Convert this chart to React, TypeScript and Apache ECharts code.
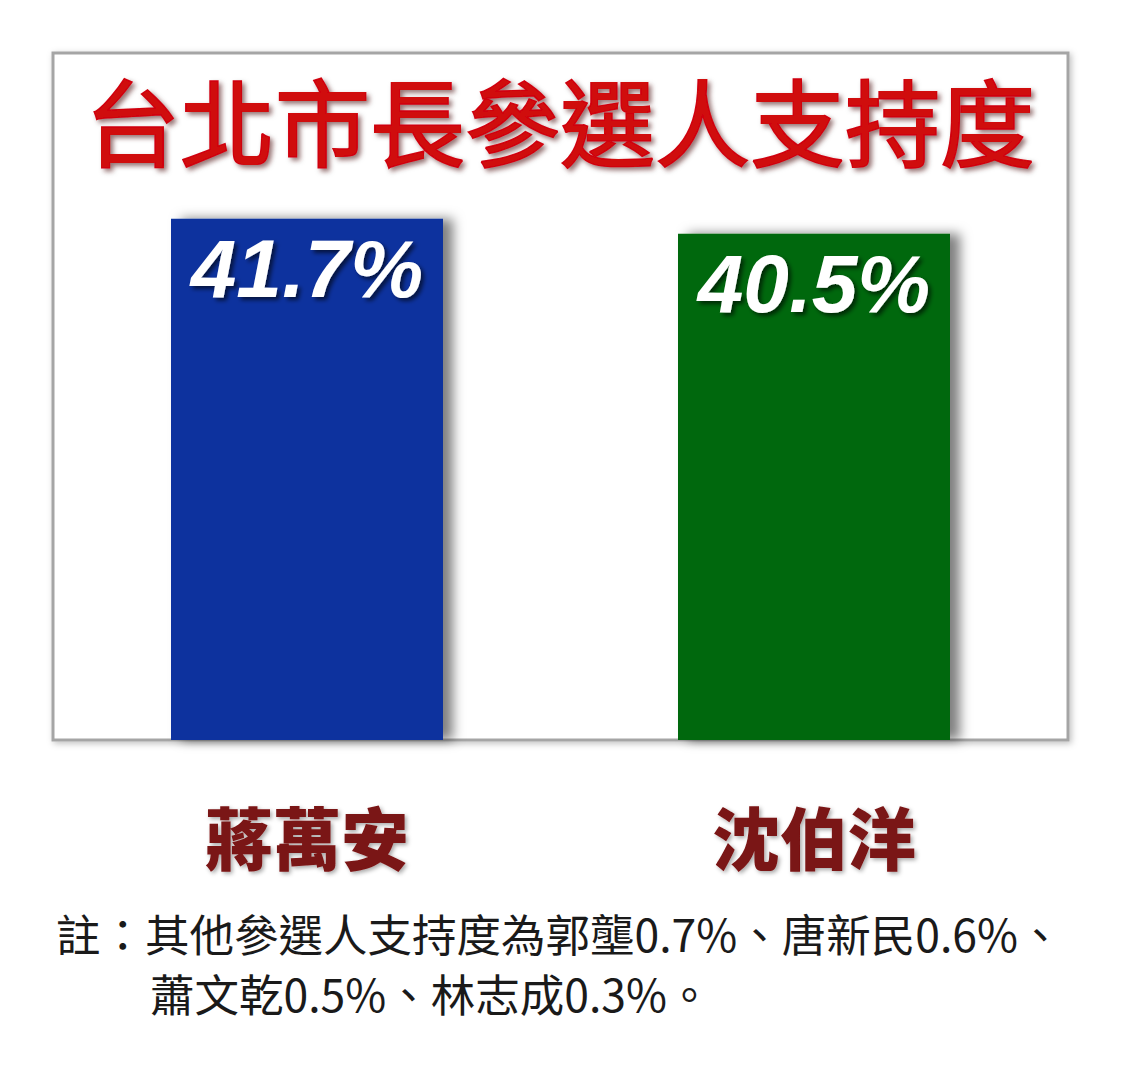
import React, { useEffect, useRef } from "react";
import * as echarts from "echarts";

const titleText = "台北市長參選人支持度";
const candidates = ["蔣萬安", "沈伯洋"];
const support = [41.7, 40.5];
const barColors = ["#0a339e", "#03670c"];
const noteLine1 = "註：其他參選人支持度為郭壟0.7%、唐新民0.6%、";
const noteLine2 = "蕭文乾0.5%、林志成0.3%。";

export default function App() {
  const ref = useRef<HTMLDivElement>(null);
  useEffect(() => {
    document.body.style.margin = "0";
    const chart = echarts.init(ref.current!, undefined, { renderer: "svg" });
    chart.setOption({
      animation: false,
      backgroundColor: "#ffffff",
      title: {
        text: titleText,
        left: 80,
        top: 66,
        textStyle: {
          fontFamily: "Noto Sans CJK TC",
          fontWeight: "normal",
          fontSize: 95,
          color: "#d0070f",
          textBorderColor: "#d0070f",
          textBorderWidth: 2,
          textShadowColor: "rgba(60,0,0,0.55)",
          textShadowBlur: 5,
          textShadowOffsetX: 3,
          textShadowOffsetY: 3,
        },
      },
      grid: { left: 53.5, width: 1014, top: 177.5, height: 562.5 },
      xAxis: {
        type: "category",
        data: candidates,
        axisLine: { show: false },
        axisTick: { show: false },
        axisLabel: {
          margin: 61,
          fontFamily: "Noto Sans CJK TC",
          fontWeight: 900,
          fontSize: 68,
          color: "#7a1212",
          textShadowColor: "rgba(0,0,0,0.35)",
          textShadowBlur: 4,
          textShadowOffsetX: 2,
          textShadowOffsetY: 2,
        },
      },
      yAxis: { type: "value", min: 0, max: 45, show: false, splitLine: { show: false } },
      graphic: [
        {
          type: "rect",
          z: 0,
          silent: true,
          shape: { x: 53, y: 53, width: 1015, height: 687 },
          style: {
            fill: "#ffffff",
            stroke: "#a5a5a5",
            lineWidth: 3,
            shadowColor: "rgba(0,0,0,0.25)",
            shadowBlur: 6,
            shadowOffsetX: 2,
            shadowOffsetY: 2,
          },
        },
        {
          type: "text",
          left: 56,
          top: 910,
          style: {
            text: noteLine1,
            fontFamily: "Noto Sans CJK TC",
            fontSize: 44.5,
            fill: "#1a1a1a",
          },
        },
        {
          type: "text",
          left: 150,
          top: 970,
          style: {
            text: noteLine2,
            fontFamily: "Noto Sans CJK TC",
            fontSize: 44.5,
            fill: "#1a1a1a",
          },
        },
      ],
      series: [
        {
          type: "bar",
          z: 3,
          barWidth: 272,
          data: support.map((v, i) => ({
            value: v,
            itemStyle: { color: barColors[i] },
          })),
          itemStyle: {
            shadowColor: "rgba(0,0,0,0.5)",
            shadowBlur: 12,
            shadowOffsetX: 10,
            shadowOffsetY: 0,
          },
          label: {
            show: true,
            position: "insideTop",
            distance: 9,
            formatter: "{c}%",
            fontFamily: "Liberation Sans",
            fontWeight: "bold",
            fontStyle: "italic",
            fontSize: 82,
            color: "#ffffff",
            textShadowColor: "rgba(0,0,0,0.6)",
            textShadowBlur: 4,
            textShadowOffsetX: 3,
            textShadowOffsetY: 3,
          },
        },
      ],
    });
    return () => chart.dispose();
  }, []);
  return <div ref={ref} style={{ width: 1145, height: 1080 }} />;
}
